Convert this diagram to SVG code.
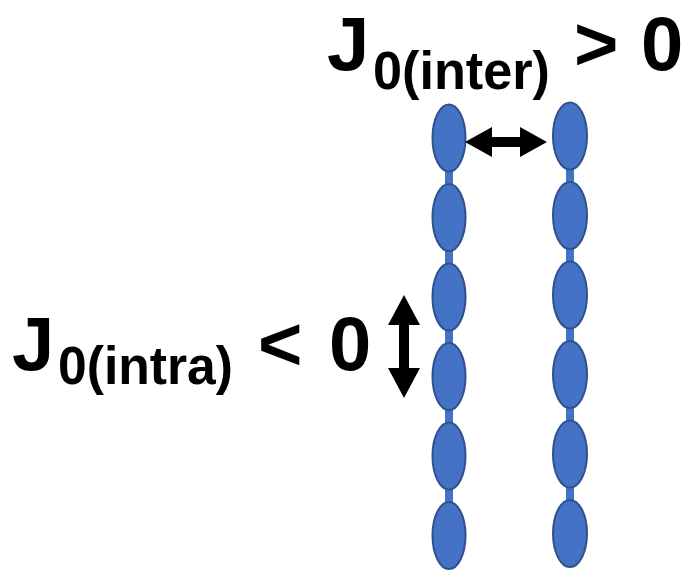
<svg xmlns="http://www.w3.org/2000/svg" width="684" height="572" viewBox="0 0 684 572">
  <style>
    .bead { fill: #4472C4; stroke: #2F528F; stroke-width: 2; }
    .neck { fill: #4472C4; }
    .lbl { font-family: "Liberation Sans", Arial, sans-serif; font-weight: bold; fill: #000; }
    .big { font-size: 76px; }
    .sub { font-size: 54px; }
    .arrow { fill: #000; }
  </style>
  <rect width="684" height="572" fill="#fff"/>

  <!-- left chain -->
  <g id="chain-left">
    <rect class="neck" x="445" y="140" width="8" height="396"/>
    <ellipse id="L1" class="bead" cx="449" cy="138" rx="16.5" ry="33.5"/>
    <ellipse id="L2" class="bead" cx="449" cy="217.5" rx="16.5" ry="33.5"/>
    <ellipse id="L3" class="bead" cx="449" cy="297" rx="16.5" ry="33.5"/>
    <ellipse id="L4" class="bead" cx="449" cy="376.5" rx="16.5" ry="33.5"/>
    <ellipse id="L5" class="bead" cx="449" cy="456" rx="16.5" ry="33.5"/>
    <ellipse id="L6" class="bead" cx="449" cy="535.5" rx="16.5" ry="33.5"/>
  </g>

  <!-- right chain -->
  <g id="chain-right">
    <rect class="neck" x="566" y="138" width="8" height="396"/>
    <ellipse id="R1" class="bead" cx="570" cy="136" rx="17" ry="33.5"/>
    <ellipse id="R2" class="bead" cx="570" cy="215.5" rx="17" ry="33.5"/>
    <ellipse id="R3" class="bead" cx="570" cy="295" rx="17" ry="33.5"/>
    <ellipse id="R4" class="bead" cx="570" cy="374.5" rx="17" ry="33.5"/>
    <ellipse id="R5" class="bead" cx="570" cy="454" rx="17" ry="33.5"/>
    <ellipse id="R6" class="bead" cx="570" cy="533.5" rx="17" ry="33.5"/>
  </g>

  <!-- double-headed arrows -->
  <g id="connectors">
    <polygon id="arrow-inter" class="arrow"
      points="465,142 492,127 492,137 520,137 520,127 547,142 520,157 520,147 492,147 492,157"/>
    <polygon id="arrow-intra" class="arrow"
      points="404,295 420,325 409,325 409,368 420,368 404,398 388,368 399,368 399,325 388,325"/>
  </g>

  <!-- labels -->
  <g id="label-inter">
    <text class="lbl big" x="327" y="70">J</text>
    <text class="lbl sub" x="373" y="89" textLength="177" lengthAdjust="spacingAndGlyphs">0(inter)</text>
    <text class="lbl big" x="574" y="70">&gt;</text>
    <text class="lbl big" x="641" y="70">0</text>
  </g>
  <g id="label-intra">
    <text class="lbl big" x="12" y="370">J</text>
    <text class="lbl sub" x="58" y="384" textLength="175" lengthAdjust="spacingAndGlyphs">0(intra)</text>
    <text class="lbl big" x="258" y="370">&lt;</text>
    <text class="lbl big" x="329" y="370">0</text>
  </g>
</svg>
